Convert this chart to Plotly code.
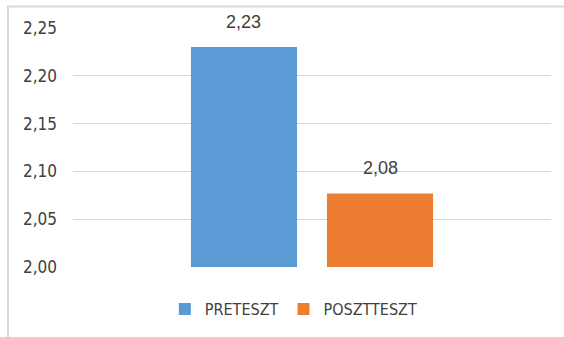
import plotly.graph_objects as go

series = ["PRETESZT", "POSZTTESZT"]
values = [2.23, 2.077]
labels = ["2,23", "2,08"]
colors = ["#5B9BD5", "#ED7D31"]
y_ticks = [2.00, 2.05, 2.10, 2.15, 2.20, 2.25]

fig = go.Figure()
for name, val, col in zip(series, values, colors):
    fig.add_trace(go.Bar(x=[name], y=[val], name=name, marker=dict(color=col, line=dict(width=0))))

for name, val, lab in zip(series, values, labels):
    fig.add_annotation(x=name, y=val, text=lab, showarrow=False, yanchor="bottom", yshift=13,
                       font=dict(family="Liberation Sans", size=18, color="#404040"))

fig.update_layout(
    width=564, height=337,
    margin=dict(l=73, r=13, t=28, b=69),
    paper_bgcolor="white", plot_bgcolor="white",
    barmode="overlay", bargap=0.22,
    separators=",.",
    showlegend=True,
    legend=dict(orientation="h", x=0.462, xanchor="center", y=-0.171, yanchor="middle",
                font=dict(family="DejaVu Sans Condensed", size=16, color="#404040"),
                traceorder="normal"),
    xaxis=dict(range=[-1.257, 2.257], showticklabels=False, showgrid=False, zeroline=False,
               showline=False, fixedrange=True),
    yaxis=dict(range=[2.0, 2.25], tickvals=y_ticks, tickformat=".2f", showgrid=True,
               gridcolor="#d9d9d9", gridwidth=1, zeroline=False, showline=False,
               ticklabelstandoff=15,
               tickfont=dict(family="DejaVu Sans Condensed", size=17, color="#404040")),
    shapes=[dict(type="rect", xref="paper", yref="paper", x0=-0.136, x1=1.05, y0=-0.35, y1=1.09,
                 line=dict(color="#d9d9d9", width=2), fillcolor="rgba(0,0,0,0)", layer="below")],
)

fig.write_html("out.html", config={"displayModeBar": False},
               post_script="document.body.style.margin='0';document.body.style.padding='0';")
